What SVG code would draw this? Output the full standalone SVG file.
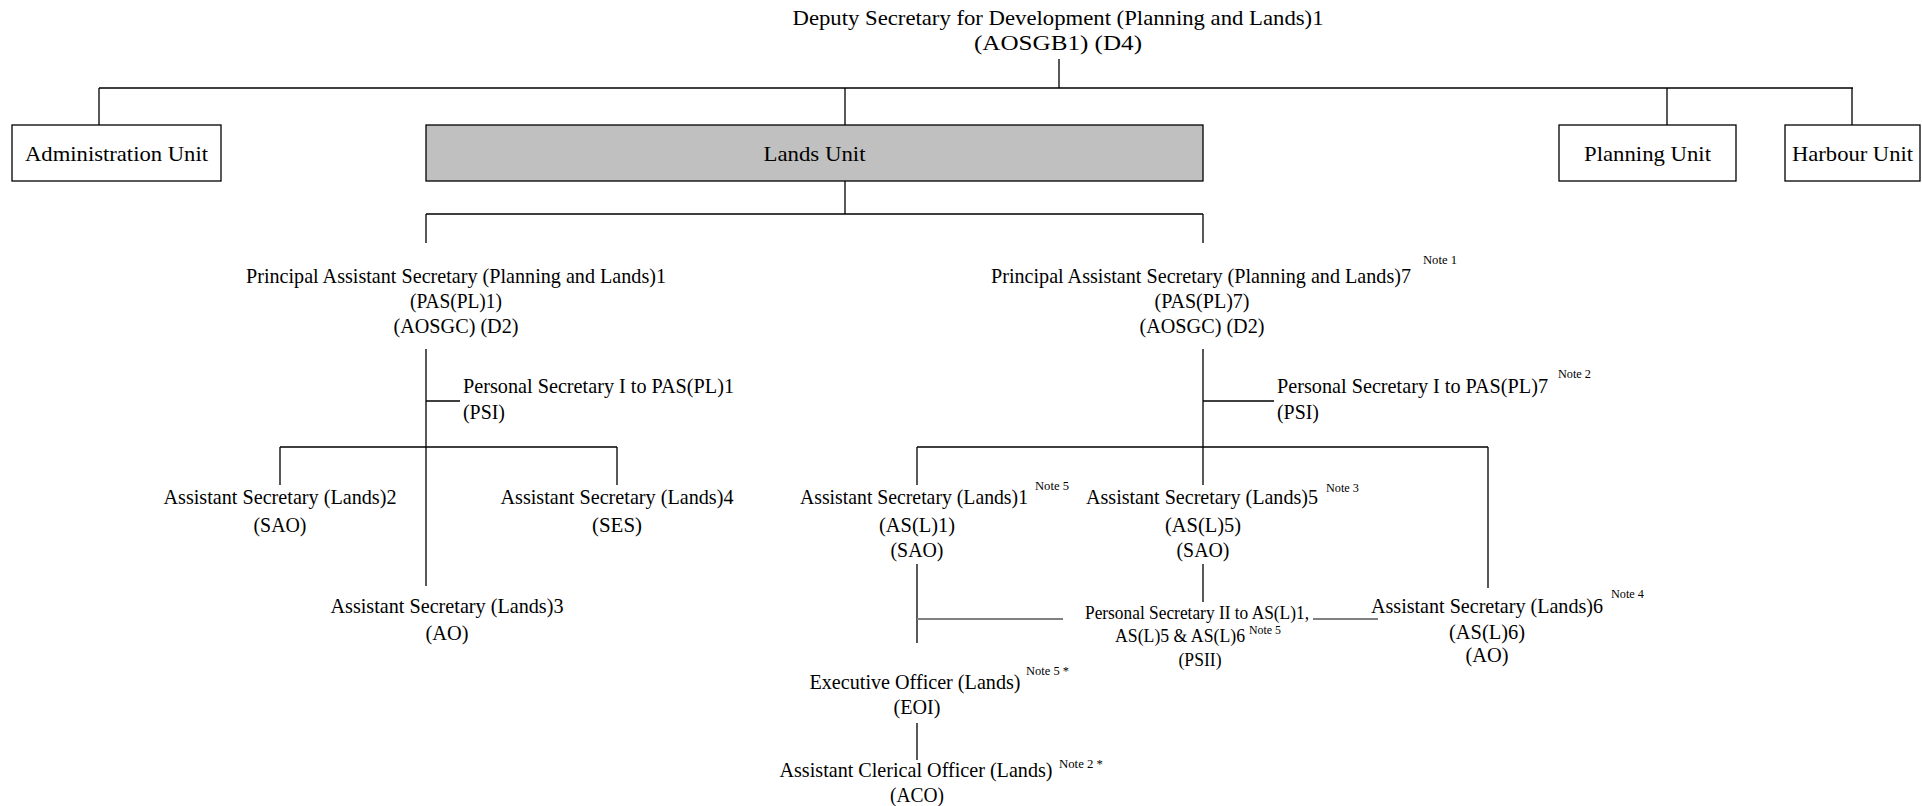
<svg xmlns="http://www.w3.org/2000/svg" width="1922" height="806" viewBox="0 0 1922 806" font-family="'Liberation Serif', 'Times New Roman', 'DejaVu Serif', serif">
<style>
text{font-family:'Liberation Serif','Times New Roman','DejaVu Serif',serif;fill:#000}
.m{font-size:22px}
.s{font-size:19px}
.n{font-size:13px}
.c{text-anchor:middle}
.box{fill:#fff;stroke:#000;stroke-width:1.3}
.gbox{fill:#c0c0c0;stroke:#000;stroke-width:1.3}
.ln{stroke:#000;stroke-width:1.3;fill:none}
.gl{stroke:#808080;stroke-width:2.2;fill:none}
</style>
<rect width="1922" height="806" fill="#fff"/>
<g id="connectors">
<path class="ln" d="M1059 59V88M99 88H1853M99 88V125M845 88V125M1667 88V125M1852 88V125"/>
<path class="ln" d="M845 181V214M426 214H1203M426 214V243M1203 214V243"/>
<path class="ln" d="M426 349V586M426 401H460M280 447H617M280 447V485M617 447V485"/>
<path class="ln" d="M1203 349V485M1203 401H1274M917 447H1488M917 447V485M1488 447V588"/>
<path class="ln" d="M917 564V643M1203 564V602M917 723V760"/>
<path class="gl" d="M917 619H1063M1313 619H1378"/>
</g>
<g id="deputy-secretary">
<text class="m c" x="1058" y="25" textLength="531" lengthAdjust="spacingAndGlyphs">Deputy Secretary for Development (Planning and Lands)1</text>
<text class="m c" x="1058" y="50" textLength="168" lengthAdjust="spacingAndGlyphs">(AOSGB1) (D4)</text>
</g>
<g id="administration-unit">
<rect class="box" x="12" y="125" width="209" height="56"/>
<text class="m c" x="116.5" y="161" textLength="183" lengthAdjust="spacingAndGlyphs">Administration Unit</text>
</g>
<g id="lands-unit">
<rect class="gbox" x="426" y="125" width="777" height="56"/>
<text class="m c" x="814.5" y="161" textLength="102" lengthAdjust="spacingAndGlyphs">Lands Unit</text>
</g>
<g id="planning-unit">
<rect class="box" x="1559" y="125" width="177" height="56"/>
<text class="m c" x="1647.5" y="161" textLength="127" lengthAdjust="spacingAndGlyphs">Planning Unit</text>
</g>
<g id="harbour-unit">
<rect class="box" x="1785" y="125" width="135" height="56"/>
<text class="m c" x="1852.5" y="161" textLength="121" lengthAdjust="spacingAndGlyphs">Harbour Unit</text>
</g>
<g id="pas-pl-1">
<text class="m c" x="456" y="283" textLength="420" lengthAdjust="spacingAndGlyphs">Principal Assistant Secretary (Planning and Lands)1</text>
<text class="m c" x="456" y="308" textLength="92" lengthAdjust="spacingAndGlyphs">(PAS(PL)1)</text>
<text class="m c" x="456" y="333" textLength="125" lengthAdjust="spacingAndGlyphs">(AOSGC) (D2)</text>
</g>
<g id="ps-1">
<text class="m" x="463" y="393" textLength="271" lengthAdjust="spacingAndGlyphs">Personal Secretary I to PAS(PL)1</text>
<text class="m" x="463" y="419" textLength="42" lengthAdjust="spacingAndGlyphs">(PSI)</text>
</g>
<g id="as-lands-2">
<text class="m c" x="280" y="504" textLength="233" lengthAdjust="spacingAndGlyphs">Assistant Secretary (Lands)2</text>
<text class="m c" x="280" y="532" textLength="53" lengthAdjust="spacingAndGlyphs">(SAO)</text>
</g>
<g id="as-lands-4">
<text class="m c" x="617" y="504" textLength="233" lengthAdjust="spacingAndGlyphs">Assistant Secretary (Lands)4</text>
<text class="m c" x="617" y="532" textLength="50" lengthAdjust="spacingAndGlyphs">(SES)</text>
</g>
<g id="as-lands-3">
<text class="m c" x="447" y="613" textLength="233" lengthAdjust="spacingAndGlyphs">Assistant Secretary (Lands)3</text>
<text class="m c" x="447" y="640" textLength="43" lengthAdjust="spacingAndGlyphs">(AO)</text>
</g>
<g id="pas-pl-7">
<text class="m c" x="1201" y="283" textLength="420" lengthAdjust="spacingAndGlyphs">Principal Assistant Secretary (Planning and Lands)7</text>
<text class="n" x="1423" y="264" textLength="34" lengthAdjust="spacingAndGlyphs">Note 1</text>
<text class="m c" x="1202" y="308" textLength="95" lengthAdjust="spacingAndGlyphs">(PAS(PL)7)</text>
<text class="m c" x="1202" y="333" textLength="125" lengthAdjust="spacingAndGlyphs">(AOSGC) (D2)</text>
</g>
<g id="ps-7">
<text class="m" x="1277" y="393" textLength="271" lengthAdjust="spacingAndGlyphs">Personal Secretary I to PAS(PL)7</text>
<text class="n" x="1558" y="378" textLength="33" lengthAdjust="spacingAndGlyphs">Note 2</text>
<text class="m" x="1277" y="419" textLength="42" lengthAdjust="spacingAndGlyphs">(PSI)</text>
</g>
<g id="as-lands-1">
<text class="m c" x="914" y="504" textLength="228" lengthAdjust="spacingAndGlyphs">Assistant Secretary (Lands)1</text>
<text class="n" x="1035" y="490" textLength="34" lengthAdjust="spacingAndGlyphs">Note 5</text>
<text class="m c" x="917" y="532" textLength="76" lengthAdjust="spacingAndGlyphs">(AS(L)1)</text>
<text class="m c" x="917" y="557" textLength="53" lengthAdjust="spacingAndGlyphs">(SAO)</text>
</g>
<g id="as-lands-5">
<text class="m c" x="1202" y="504" textLength="232" lengthAdjust="spacingAndGlyphs">Assistant Secretary (Lands)5</text>
<text class="n" x="1326" y="492" textLength="33" lengthAdjust="spacingAndGlyphs">Note 3</text>
<text class="m c" x="1203" y="532" textLength="76" lengthAdjust="spacingAndGlyphs">(AS(L)5)</text>
<text class="m c" x="1203" y="557" textLength="53" lengthAdjust="spacingAndGlyphs">(SAO)</text>
</g>
<g id="ps-2">
<text class="s c" x="1197" y="619" textLength="224" lengthAdjust="spacingAndGlyphs">Personal Secretary II to AS(L)1,</text>
<text class="s c" x="1180" y="642" textLength="130" lengthAdjust="spacingAndGlyphs">AS(L)5 &amp; AS(L)6</text>
<text class="n" x="1249" y="634" textLength="32" lengthAdjust="spacingAndGlyphs">Note 5</text>
<text class="s c" x="1200" y="666" textLength="43" lengthAdjust="spacingAndGlyphs">(PSII)</text>
</g>
<g id="as-lands-6">
<text class="m c" x="1487" y="613" textLength="232" lengthAdjust="spacingAndGlyphs">Assistant Secretary (Lands)6</text>
<text class="n" x="1611" y="598" textLength="33" lengthAdjust="spacingAndGlyphs">Note 4</text>
<text class="m c" x="1487" y="639" textLength="76" lengthAdjust="spacingAndGlyphs">(AS(L)6)</text>
<text class="m c" x="1487" y="662" textLength="43" lengthAdjust="spacingAndGlyphs">(AO)</text>
</g>
<g id="executive-officer">
<text class="m c" x="915" y="689" textLength="211" lengthAdjust="spacingAndGlyphs">Executive Officer (Lands)</text>
<text class="n" x="1026" y="675" textLength="43" lengthAdjust="spacingAndGlyphs">Note 5 *</text>
<text class="m c" x="917" y="714" textLength="47" lengthAdjust="spacingAndGlyphs">(EOI)</text>
</g>
<g id="assistant-clerical-officer">
<text class="m c" x="916" y="777" textLength="273" lengthAdjust="spacingAndGlyphs">Assistant Clerical Officer (Lands)</text>
<text class="n" x="1059" y="768" textLength="44" lengthAdjust="spacingAndGlyphs">Note 2 *</text>
<text class="m c" x="917" y="802" textLength="54" lengthAdjust="spacingAndGlyphs">(ACO)</text>
</g>
</svg>
